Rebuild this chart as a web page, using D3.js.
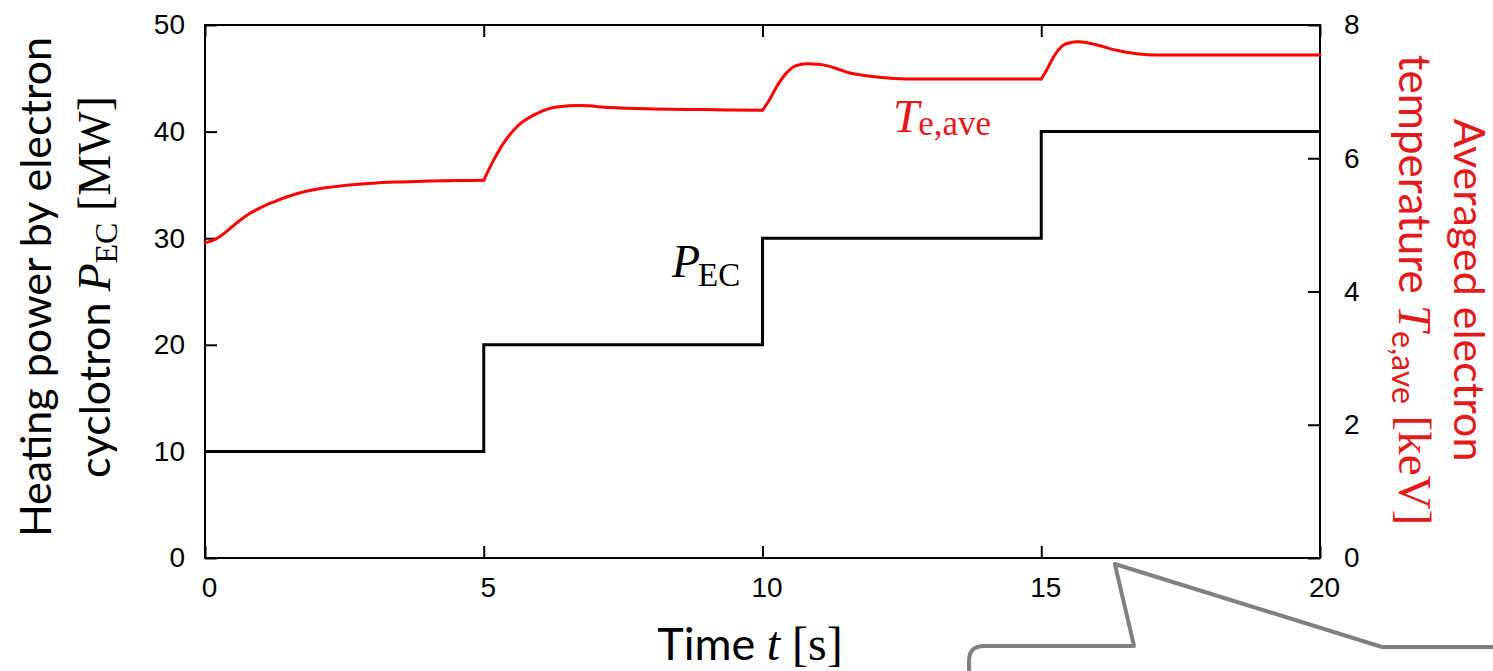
<!DOCTYPE html>
<html><head><meta charset="utf-8">
<script src="https://cdn.jsdelivr.net/npm/d3@7"></script>
<style>body{margin:0;background:#fff} svg{display:block}</style>
</head><body>
<svg id="c" width="1493" height="671"></svg>
<script>
// ---- data ----
const pecTime  = [0, 5, 10, 15, 20];
const pecValue = [10, 20, 30, 40, 40];
const teTime  = [0, 0.2, 0.4, 0.6, 0.8, 1.0, 1.25, 1.5, 1.8, 2.1, 2.5, 3.0, 3.5, 4.0, 4.5, 5.0,
                 5.17, 5.35, 5.59, 5.95, 6.31, 6.73, 7.26, 8.04, 8.94, 10.0,
                 10.12, 10.25, 10.37, 10.49, 10.6, 10.8, 11.0, 11.15, 11.35, 11.57, 11.8, 12.05, 12.3, 12.6, 15.0,
                 15.1, 15.22, 15.3, 15.4, 15.5, 15.67, 16.0, 16.35, 16.71, 17.07, 20.0];
const teValue = [4.73, 4.79, 4.91, 5.05, 5.17, 5.26, 5.35, 5.43, 5.50, 5.55, 5.59, 5.625, 5.645, 5.66, 5.665, 5.67,
                 5.96, 6.22, 6.47, 6.67, 6.77, 6.79, 6.76, 6.74, 6.73, 6.72,
                 6.87, 7.07, 7.22, 7.33, 7.39, 7.42, 7.41, 7.39, 7.34, 7.28, 7.245, 7.22, 7.20, 7.19, 7.19,
                 7.33, 7.52, 7.62, 7.70, 7.73, 7.75, 7.70, 7.62, 7.57, 7.55, 7.55];
const stepTimes   = [0, 5, 10, 15, 20];
const xTicks      = [0, 5, 10, 15, 20];
const yLeftTicks  = [0, 10, 20, 30, 40, 50];
const yRightTicks = [0, 2, 4, 6, 8];

// ---- layout ----
const svg = d3.select("#c");
const m = {l:205, r:1320, t:25, b:558};
const x  = d3.scaleLinear().domain([0,20]).range([m.l, m.r]);
const yL = d3.scaleLinear().domain([0,50]).range([m.b, m.t]);
const yR = d3.scaleLinear().domain([0,8]).range([m.b, m.t]);
const RED = "#e31a1c";
const tickFont = "'Liberation Sans', Arial, sans-serif";
const titleFont = "Lato, 'Open Sans', sans-serif";
const serif = "'Liberation Serif', 'Times New Roman', serif";

function styleAxis(g){
  g.select(".domain").remove();
  g.selectAll(".tick line").attr("stroke","#000").attr("stroke-width",2);
  g.selectAll(".tick text").attr("font-family",tickFont).attr("font-size",28).attr("fill","#000");
}

svg.append("g").attr("transform",`translate(${m.l},0)`)
  .call(d3.axisLeft(yL).tickValues(yLeftTicks).tickSizeInner(-12).tickSizeOuter(0).tickPadding(20))
  .call(styleAxis);
svg.append("g").attr("transform",`translate(${m.r},0)`)
  .call(d3.axisRight(yR).tickValues(yRightTicks).tickSizeInner(-12).tickSizeOuter(0).tickPadding(24))
  .call(styleAxis);
svg.append("g").attr("transform",`translate(0,${m.b})`)
  .call(d3.axisBottom(x).tickValues(xTicks).tickSizeInner(-12).tickSizeOuter(0).tickPadding(19))
  .call(styleAxis)
  .call(g=>g.selectAll(".tick text").attr("dx",4));
svg.append("g").attr("transform",`translate(0,${m.t})`)
  .call(d3.axisTop(x).tickValues(xTicks).tickSizeInner(-12).tickSizeOuter(0).tickFormat(""))
  .call(styleAxis);

svg.append("rect").attr("x",m.l).attr("y",m.t).attr("width",m.r-m.l).attr("height",m.b-m.t)
  .attr("fill","none").attr("stroke","#000").attr("stroke-width",2);

// ---- P_EC step line ----
const pecData = pecTime.map((t,i)=>({t, v:pecValue[i]}));
svg.append("path").datum(pecData)
  .attr("d", d3.line().x(d=>x(d.t)).y(d=>yL(d.v)).curve(d3.curveStepAfter))
  .attr("fill","none").attr("stroke","#000").attr("stroke-width",3);

// ---- Te,ave curve (smooth within each heating step) ----
const teData = teTime.map((t,i)=>({t, v:teValue[i]}));
const teLine = d3.line().x(d=>x(d.t)).y(d=>yR(d.v)).curve(d3.curveMonotoneX);
for (let k=0;k<stepTimes.length-1;k++){
  const a=stepTimes[k], b=stepTimes[k+1];
  svg.append("path").datum(teData.filter(d=>d.t>=a && d.t<=b))
    .attr("d", teLine).attr("fill","none").attr("stroke","#ff0000")
    .attr("stroke-width",3).attr("stroke-linecap","round");
}

// ---- in-plot labels ----
const pl = svg.append("text").attr("x",672).attr("y",277).attr("font-family",serif).attr("fill","#000");
pl.append("tspan").attr("font-style","italic").attr("font-size",46).text("P");
pl.append("tspan").attr("font-size",33).attr("dy",9).attr("dx",-2).text("EC");

const tl = svg.append("text").attr("x",893).attr("y",132).attr("font-family",serif).attr("fill",RED);
tl.append("tspan").attr("font-style","italic").attr("font-size",47).text("T");
tl.append("tspan").attr("font-size",35).attr("dy",3).attr("dx",-1).text("e,ave");

// ---- axis titles ----
svg.append("text").attr("x",750).attr("y",660).attr("text-anchor","middle")
  .attr("font-family",titleFont).attr("font-size",45).attr("fill","#000")
  .call(t=>{
    t.append("tspan").text("Time ");
    t.append("tspan").attr("font-family",serif).attr("font-style","italic").attr("font-size",48).text("t");
    t.append("tspan").attr("font-family",serif).attr("font-size",48).text(" [s]");
  });

const lt = svg.append("g").attr("transform","translate(0,287) rotate(-90)");
lt.append("text").attr("x",0).attr("y",51).attr("text-anchor","middle")
  .attr("font-family",titleFont).attr("font-size",43).attr("fill","#000")
  .text("Heating power by electron");
lt.append("text").attr("x",0).attr("y",110).attr("text-anchor","middle")
  .attr("font-family",titleFont).attr("font-size",43).attr("fill","#000")
  .call(t=>{
    t.append("tspan").text("cyclotron ");
    t.append("tspan").attr("font-family",serif).attr("font-style","italic").attr("font-size",46).text("P");
    t.append("tspan").attr("font-family",serif).attr("font-size",32).attr("dy",7).text("EC");
    t.append("tspan").attr("font-family",serif).attr("font-size",46).attr("dy",-7).text(" [MW]");
  });

const rt = svg.append("g").attr("transform","translate(0,290) rotate(90)");
rt.append("text").attr("x",0).attr("y",-1454).attr("text-anchor","middle")
  .attr("font-family",titleFont).attr("font-size",43).attr("fill",RED)
  .text("Averaged electron");
rt.append("text").attr("x",0).attr("y",-1399).attr("text-anchor","middle")
  .attr("font-family",titleFont).attr("font-size",44).attr("fill",RED)
  .call(t=>{
    t.append("tspan").text("temperature ");
    t.append("tspan").attr("font-family",serif).attr("font-style","italic").attr("font-size",47).text("T");
    t.append("tspan").attr("font-family",titleFont).attr("font-size",32).attr("dy",7).text("e,ave");
    t.append("tspan").attr("font-family",serif).attr("font-size",47).attr("dy",-7).text(" [keV]");
  });

// ---- callout outline (decoration) ----
const tipX = x(16.32), tipY = yL(0) + 6;
svg.append("path")
  .attr("d",`M969,672 L969,661 Q969,646 984,646 L1134,646 L${tipX},${tipY} L1382,647 L1494,647`)
  .attr("fill","none").attr("stroke","#808080").attr("stroke-width",4).attr("stroke-linejoin","round");
</script>
</body></html>
